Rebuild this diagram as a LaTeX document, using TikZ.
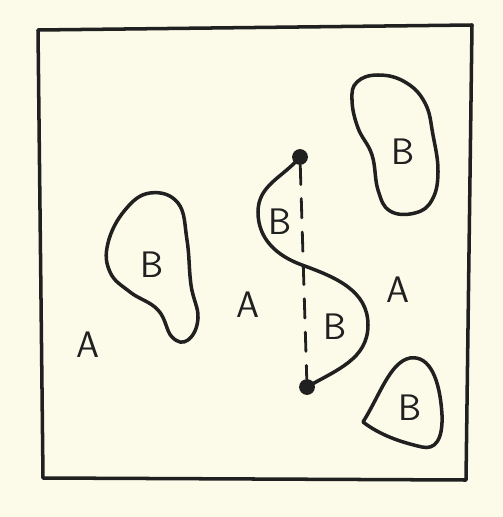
\documentclass[tikz,border=0pt]{standalone}
\usepackage{xcolor}
\usepackage{tikz}
\definecolor{paper}{RGB}{252,251,234}
\definecolor{ink}{RGB}{32,32,32}

\begin{document}
\begin{tikzpicture}[x=0.02cm,y=-0.02cm,
  pen/.style={ink,line width=2pt,line cap=round,line join=round},
  lbl/.style={font=\sffamily\fontsize{21}{21}\selectfont,text=ink,inner sep=0pt},
  dot/.style={circle,fill=ink,inner sep=0pt,minimum size=9pt}]

  \fill[paper] (0,0) rectangle (503,517);
  \useasboundingbox (0,0) rectangle (503,517);

  % frame
  \draw[pen] (38,30) -- (472,25) -- (466,480) -- (43,478) -- cycle;

  % regions B
  \draw[pen] plot[smooth cycle,tension=0.7] coordinates {(150,193) (178,203) (187,240)
    (191,285) (198,318) (188,340) (172,337) (158,310) (130,292) (110,272) (108,243) (125,210)};
  \draw[pen] plot[smooth cycle,tension=0.7] coordinates {(357,82) (378,75) (405,82)
    (425,103) (433,135) (438,172) (432,200) (415,213) (390,211) (378,190) (372,155) (358,128) (352,100)};
  \draw[pen] (363,422) .. controls (380,395) and (390,362) .. (410,358)
    .. controls (430,355) and (440,380) .. (442,415)
    .. controls (443,440) and (435,450) .. (422,447)
    .. controls (400,442) and (380,435) .. (363,422) -- cycle;

  \node[dot] (top) at (300,157) {};
  \node[dot] (bot) at (307,387) {};

  \draw[pen,line width=1.6pt,dash pattern=on 11pt off 8pt] (top) -- (bot);
  \draw[pen] (top.center) to[out=-130,in=90] (258,212) to[out=-90,in=160] (302,265)
    to[out=-20,in=90] (368,325) to[out=-90,in=30] (bot.center);

  \node[lbl] (bLeft)  at (152,265) {B};
  \node[lbl] (bTop)   at (403,152) {B};
  \node[lbl] (bBot)   at (410,408) {B};
  \node[lbl] (bCurv1) at (280,222) {B};
  \node[lbl] (bCurv2) at (335,327) {B};
  \node[lbl] (aLeft)  at (88,345)  {A};
  \node[lbl] (aMid)   at (248,305) {A};
  \node[lbl] (aRight) at (398,290) {A};

\end{tikzpicture}
\end{document}
